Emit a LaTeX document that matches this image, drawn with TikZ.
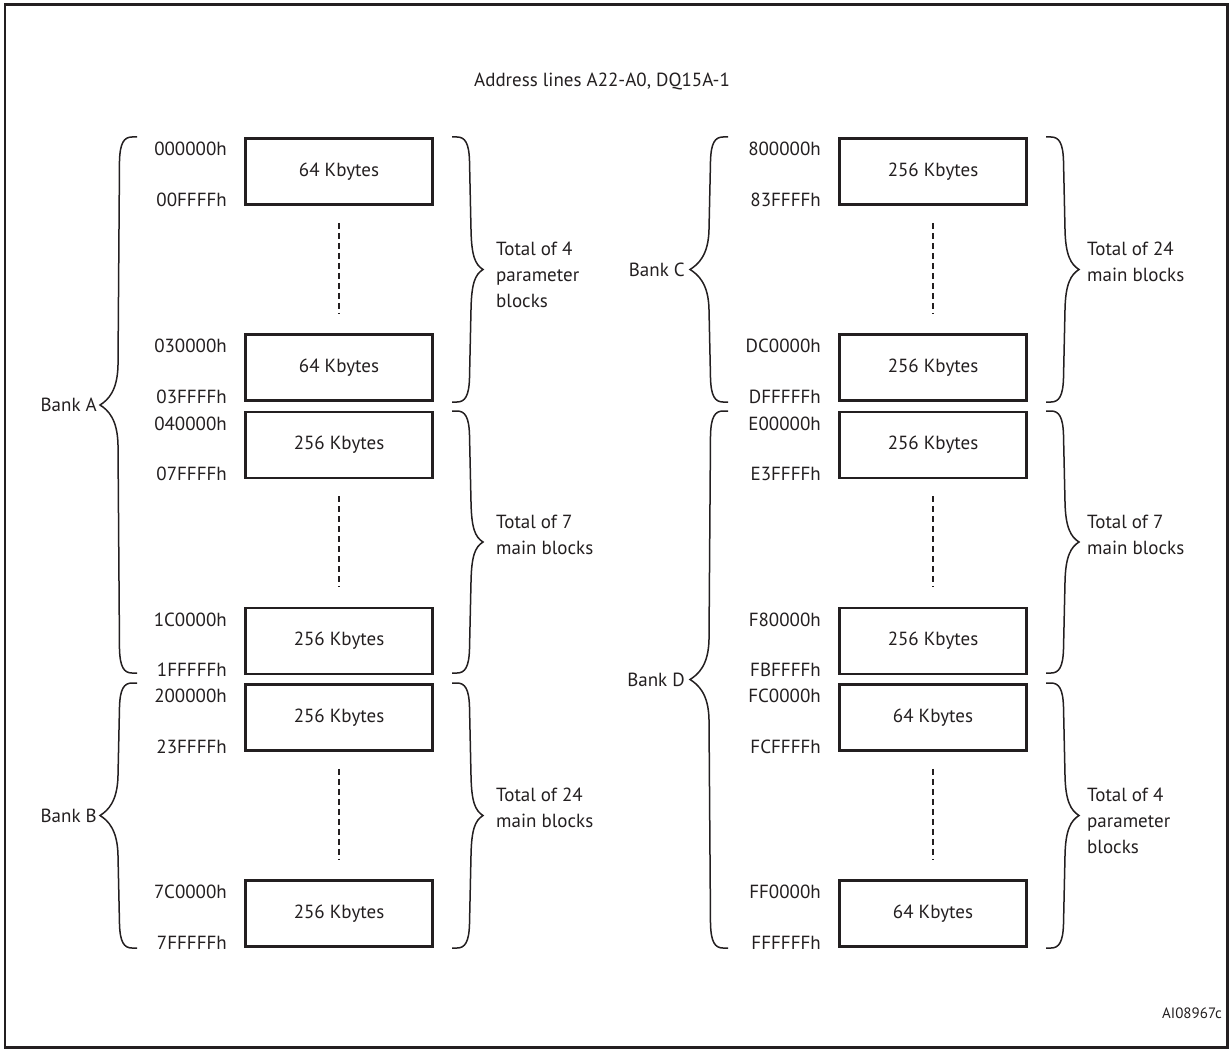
\documentclass[tikz,border=0pt]{standalone}
\usepackage{fontspec}
\setmainfont{PT Sans}
\definecolor{ink}{HTML}{231F20}
\newcommand{\mybrace}[5]{% x0, ytop, ybot, dir, tip
  \pgfmathsetmacro{\brmid}{(#2+#3)/2}
  \begin{scope}[xshift=#1pt, xscale=#4]
  \draw[brcs] (0,#2) -- (5,#2) .. controls (13,#2) and (17,#2+6) .. (17.5,#2+24)
     -- (19,\brmid-40) .. controls (19.5,\brmid-14) and (#5-8,\brmid-5) .. (#5,\brmid)
     .. controls (#5-8,\brmid+5) and (19.5,\brmid+14) .. (19,\brmid+40)
     -- (17.5,#3-24) .. controls (17,#3-6) and (13,#3) .. (5,#3) -- (0,#3);
  \end{scope}}
\begin{document}
\begin{tikzpicture}[x=1pt,y=-1pt,
  every node/.style={text=ink, font=\fontsize{19}{26}\selectfont},
  blk/.style={draw=ink, line width=2.8pt, minimum width=187pt, minimum height=66pt, inner sep=0pt},
  addr/.style={anchor=base east, inner sep=0pt},
  bank/.style={anchor=base east, inner sep=0pt},
  total/.style={anchor=west, align=left, inner sep=0pt},
  brcs/.style={draw=ink, line width=1.5pt},
  dotl/.style={draw=ink, line width=1.9pt, dash pattern=on 6pt off 4pt, shorten <=17pt, shorten >=20pt}]
\useasboundingbox (0,0) rectangle (1231,1051);
\draw[draw=ink, line width=2.6pt] (5,4.5) rectangle (1227.5,1047.5);

\node[anchor=base, inner sep=0pt] (title) at (602,87) {Address lines A22-A0, DQ15A-1};

% ---------- left column ----------
\node[blk] (a1) at (339,171.5) {64 Kbytes};
\node[blk] (a2) at (339,367.5) {64 Kbytes};
\node[blk] (a3) at (339,445) {256 Kbytes};
\node[blk] (a4) at (339,641) {256 Kbytes};
\node[blk] (b1) at (339,717.5) {256 Kbytes};
\node[blk] (b2) at (339,913.5) {256 Kbytes};
\draw[dotl] (a1.south) -- (a2.north);
\draw[dotl] (a3.south) -- (a4.north);
\draw[dotl] (b1.south) -- (b2.north);

\node[addr] (a1t) at (227,156) {000000h};
\node[addr] (a1b) at (227,207) {00FFFFh};
\node[addr] (a2t) at (227,352) {030000h};
\node[addr] (a2b) at (227,403) {03FFFFh};
\node[addr] (a3t) at (227,430) {040000h};
\node[addr] (a3b) at (227,480) {07FFFFh};
\node[addr] (a4t) at (227,626) {1C0000h};
\node[addr] (a4b) at (227,676) {1FFFFFh};
\node[addr] (b1t) at (227,702) {200000h};
\node[addr] (b1b) at (227,753) {23FFFFh};
\node[addr] (b2t) at (227,898) {7C0000h};
\node[addr] (b2b) at (227,949) {7FFFFFh};

\mybrace{137}{137}{673}{-1}{37}
\mybrace{137}{683}{948}{-1}{37}
\mybrace{452}{137}{402}{1}{31}
\mybrace{452}{411}{673}{1}{31}
\mybrace{452}{683}{948}{1}{31}

\node[bank] (bankA) at (97,411.5) {Bank A};
\node[bank] (bankB) at (97,822) {Bank B};
\node[total] (ta1) at (496,275) {Total of 4\\parameter\\blocks};
\node[total] (ta2) at (496,535) {Total of 7\\main blocks};
\node[total] (tb1) at (496,808) {Total of 24\\main blocks};

% ---------- right column ----------
\node[blk] (c1) at (933,171.5) {256 Kbytes};
\node[blk] (c2) at (933,367.5) {256 Kbytes};
\node[blk] (d1) at (933,445) {256 Kbytes};
\node[blk] (d2) at (933,641) {256 Kbytes};
\node[blk] (d3) at (933,717.5) {64 Kbytes};
\node[blk] (d4) at (933,913.5) {64 Kbytes};
\draw[dotl] (c1.south) -- (c2.north);
\draw[dotl] (d1.south) -- (d2.north);
\draw[dotl] (d3.south) -- (d4.north);

\node[addr] (c1t) at (821,156) {800000h};
\node[addr] (c1b) at (821,207) {83FFFFh};
\node[addr] (c2t) at (821,352) {DC0000h};
\node[addr] (c2b) at (821,403) {DFFFFFh};
\node[addr] (d1t) at (821,430) {E00000h};
\node[addr] (d1b) at (821,480) {E3FFFFh};
\node[addr] (d2t) at (821,626) {F80000h};
\node[addr] (d2b) at (821,676) {FBFFFFh};
\node[addr] (d3t) at (821,702) {FC0000h};
\node[addr] (d3b) at (821,753) {FCFFFFh};
\node[addr] (d4t) at (821,898) {FF0000h};
\node[addr] (d4b) at (821,949) {FFFFFFh};

\mybrace{728}{137}{402}{-1}{38}
\mybrace{728}{411}{948}{-1}{38}
\mybrace{1046}{137}{402}{1}{33}
\mybrace{1046}{411}{673}{1}{33}
\mybrace{1046}{683}{948}{1}{33}

\node[bank] (bankC) at (685,276) {Bank C};
\node[bank] (bankD) at (685,686) {Bank D};
\node[total] (tc1) at (1087,262) {Total of 24\\main blocks};
\node[total] (td1) at (1087,535) {Total of 7\\main blocks};
\node[total] (td2) at (1087,821) {Total of 4\\parameter\\blocks};

\node[anchor=base east, inner sep=0pt, font=\fontsize{15}{18}\selectfont] (ref) at (1222,1018) {AI08967c};
\end{tikzpicture}
\end{document}
